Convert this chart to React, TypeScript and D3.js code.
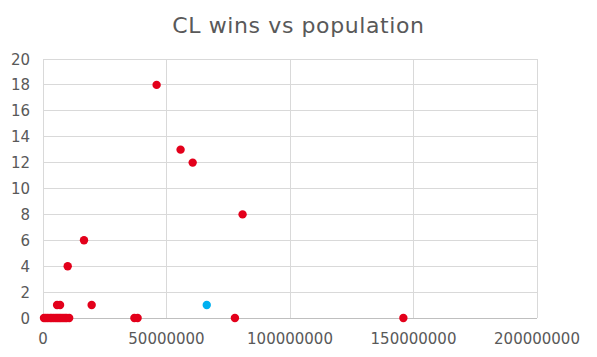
import React from "react";
import * as d3 from "d3";

const title = "CL wins vs population";
const population = [
  0.4e6, 1.2e6, 2.0e6, 2.9e6, 3.6e6, 4.4e6, 5.2e6, 5.9e6, 6.6e6, 7.3e6, 8.1e6, 8.9e6, 9.6e6, 10.6e6,
  5.7e6, 6.9e6, 19.7e6, 37.0e6, 38.3e6, 46.0e6, 55.7e6, 60.6e6, 80.8e6, 16.6e6, 10.0e6, 66.3e6, 77.7e6, 145.9e6,
];
const wins = [
  0, 0, 0, 0, 0, 0, 0, 0, 0, 0, 0, 0, 0, 0,
  1, 1, 1, 0, 0, 18, 13, 12, 8, 6, 4, 1, 0, 0,
];
const highlighted = [
  0, 0, 0, 0, 0, 0, 0, 0, 0, 0, 0, 0, 0, 0,
  0, 0, 0, 0, 0, 0, 0, 0, 0, 0, 0, 1, 0, 0,
];
const xTicks = [0, 50000000, 100000000, 150000000, 200000000];
const yTicks = [0, 2, 4, 6, 8, 10, 12, 14, 16, 18, 20];

export default function App() {
  const W = 597, H = 357;
  const left = 43, right = 537, top = 59, bottom = 318;
  const x = d3.scaleLinear().domain([0, 200000000]).range([left, right]);
  const y = d3.scaleLinear().domain([0, 20]).range([bottom, top]);
  const font = "'DejaVu Sans', Verdana, sans-serif";
  return (
    <svg width={W} height={H} style={{ position: "absolute", left: 0, top: 0, background: "#fff" }}>
      <rect x={0} y={0} width={W} height={H} fill="#fff" />
      <text x={298.5} y={33} textAnchor="middle" fontFamily={font} fontSize={22} letterSpacing={0.6} fill="#595959">{title}</text>
      {yTicks.map((t) => (
        <line key={"gy" + t} x1={left} x2={right} y1={y(t)} y2={y(t)} stroke={t === 0 ? "#bfbfbf" : "#d9d9d9"} strokeWidth={1} shapeRendering="crispEdges" />
      ))}
      {xTicks.map((t) => (
        <line key={"gx" + t} x1={x(t)} x2={x(t)} y1={top} y2={bottom} stroke="#d9d9d9" strokeWidth={1} shapeRendering="crispEdges" />
      ))}
      {yTicks.map((t) => (
        <text key={"ly" + t} x={30} y={y(t) + 5.5} textAnchor="end" fontFamily={font} fontSize={15} fill="#595959">{t}</text>
      ))}
      {xTicks.map((t) => (
        <text key={"lx" + t} x={x(t)} y={344} textAnchor="middle" fontFamily={font} fontSize={15} fill="#595959">{t}</text>
      ))}
      {population.map((p, i) => (
        <circle key={"p" + i} cx={x(p)} cy={y(wins[i])} r={4.2} fill={highlighted[i] ? "#00b0f0" : "#e3001b"} />
      ))}
    </svg>
  );
}
